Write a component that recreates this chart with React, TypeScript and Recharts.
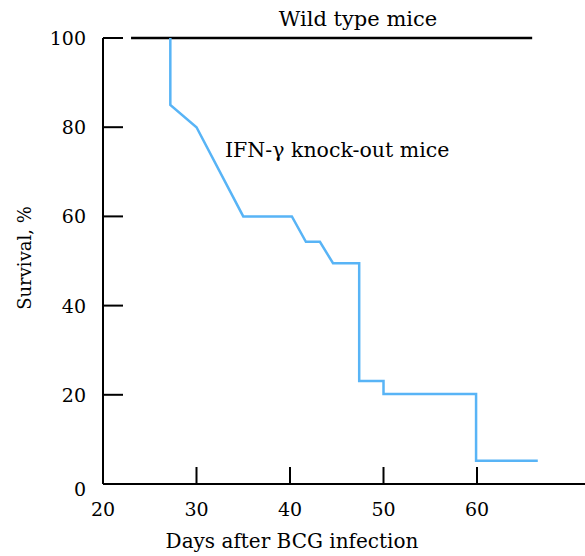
import React from "react";
import { LineChart, Line, XAxis, YAxis } from "recharts";

const koDays = [27.2, 27.2, 30, 35, 40.2, 41.7, 43.2, 44.6, 47.4, 47.4, 50, 50, 59.9, 59.9, 66.5];
const koSurvival = [100, 85, 80, 60, 60, 54.3, 54.3, 49.5, 49.5, 23.1, 23.1, 20.2, 20.2, 5.2, 5.2];
const wtDays = [23, 65.9];
const wtSurvival = [100, 100];
const xTicks = [20, 30, 40, 50, 60];
const yTicks = [0, 20, 40, 60, 80, 100];

const koData = koDays.map((d, i) => ({ day: d, s: koSurvival[i] }));
const wtData = wtDays.map((d, i) => ({ day: d, s: wtSurvival[i] }));

const FONT = "'DejaVu Serif', serif";

const XTick = (props: any) => {
  const { x, y, payload } = props;
  return (
    <g>
      {payload.value !== 20 && (
        <line x1={x} x2={x} y1={y} y2={y - 17} stroke="#000" strokeWidth={2} />
      )}
      <text x={x} y={y + 25} textAnchor="middle" dominantBaseline="central" fontFamily={FONT} fontSize={19} fill="#000">
        {payload.value}
      </text>
    </g>
  );
};

const YTick = (props: any) => {
  const { x, y, payload } = props;
  const v = payload.value;
  return (
    <g>
      {v !== 0 && <line x1={x} x2={x + 20} y1={y} y2={y} stroke="#000" strokeWidth={2} />}
      <text x={x - 17} y={v === 0 ? y + 5 : y} textAnchor="end" dominantBaseline="central" fontFamily={FONT} fontSize={19} fill="#000">
        {v}
      </text>
    </g>
  );
};

export default function App() {
  return (
    <div style={{ position: "absolute", left: 0, top: 0, width: 585, height: 556, background: "#fff" }}>
      <LineChart width={585} height={556} margin={{ top: 38, right: 0, left: 0, bottom: 0 }}>
        <XAxis
          type="number"
          dataKey="day"
          domain={[20, 71.55]}
          ticks={xTicks}
          allowDataOverflow
          height={72}
          tickLine={false}
          tickSize={0}
          tickMargin={0}
          tick={<XTick />}
          axisLine={{ stroke: "#000", strokeWidth: 2 }}
        />
        <YAxis
          type="number"
          dataKey="s"
          domain={[0, 100]}
          ticks={yTicks}
          width={103}
          tickLine={false}
          tickSize={0}
          tickMargin={0}
          tick={<YTick />}
          axisLine={{ stroke: "#000", strokeWidth: 2 }}
        />
        <Line data={wtData} dataKey="s" type="linear" stroke="#000" strokeWidth={2.5} dot={false} isAnimationActive={false} />
        <Line data={koData} dataKey="s" type="linear" stroke="#58B4F6" strokeWidth={2.5} dot={false} isAnimationActive={false} />
      </LineChart>
      <svg width={585} height={556} style={{ position: "absolute", left: 0, top: 0, pointerEvents: "none" }}>
        <text x={358} y={26} textAnchor="middle" fontFamily={FONT} fontSize={21} fill="#000">Wild type mice</text>
        <text x={225} y={157} textAnchor="start" fontFamily={FONT} fontSize={20.5} fill="#000">IFN-γ knock-out mice</text>
        <text x={292} y={548} textAnchor="middle" fontFamily={FONT} fontSize={20} fill="#000">Days after BCG infection</text>
        <text transform="translate(31,258) rotate(-90)" textAnchor="middle" fontFamily={FONT} fontSize={18} fill="#000">Survival, %</text>
      </svg>
    </div>
  );
}
